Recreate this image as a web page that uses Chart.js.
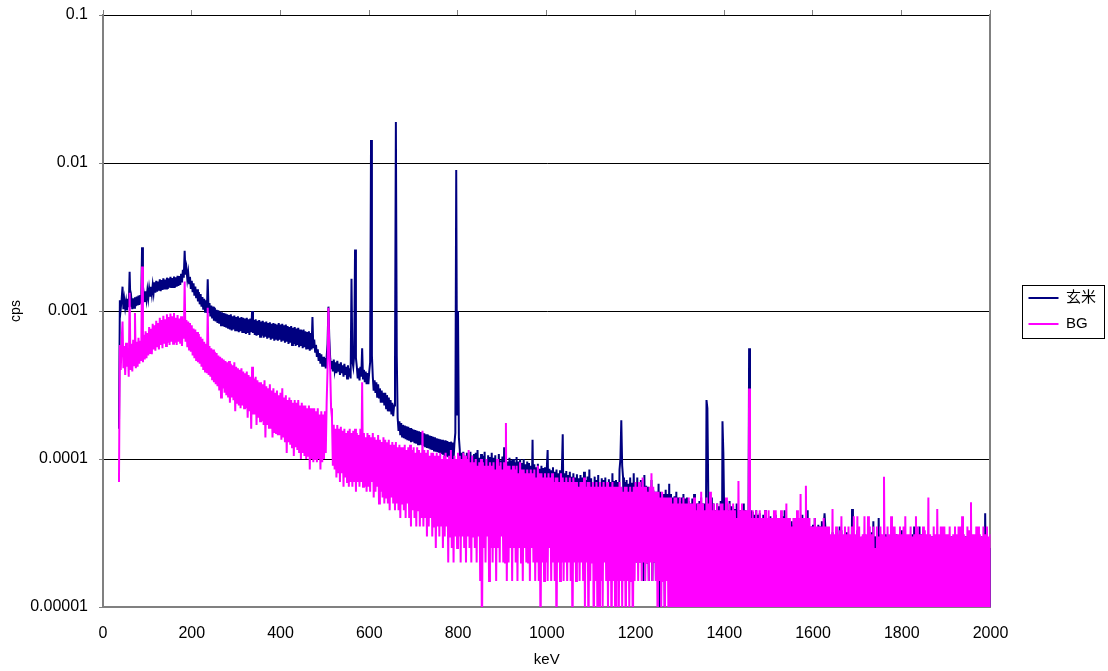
<!DOCTYPE html>
<html>
<head>
<meta charset="utf-8">
<title>玄米 / BG spectrum</title>
<script src="https://cdn.jsdelivr.net/npm/chart.js@4.4.1/dist/chart.umd.min.js"></script>
<style>
  html, body { margin: 0; padding: 0; background: #fff; }
  #spectrum { display: block; }
</style>
</head>
<body>
<canvas id="spectrum" width="1108" height="671"></canvas>
<script>
// channel calibration: first channel energy and channel width (keV)
const E_START_KEV = 36;
const E_STEP_KEV = 2;

// 玄米 (brown rice) sample, cps per channel; one row = 40 keV.
// channels with a single count (5e-6) fall below the axis floor.
const genmaiCps = [
  1.6e-4, 1.18e-3, 1.04e-3, 1.2e-3, 1.46e-3, 1.03e-3, 1.19e-3, 1.05e-3, 1.16e-3, 1.01e-3, 1.21e-3, 1.06e-3, 1.84e-3, 1.07e-3, 1.2e-3, 1.03e-3, 1.22e-3, 1.05e-3, 1.24e-3, 1.08e-3, // 36
  1.25e-3, 1.09e-3, 1.27e-3, 1.1e-3, 1.28e-3, 1.12e-3, 2.7e-3, 1.14e-3, 1.3e-3, 1.15e-3, 1.36e-3, 1.2e-3, 1.38e-3, 1.22e-3, 1.42e-3, 1.27e-3, 1.46e-3, 1.3e-3, 1.5e-3, 1.33e-3, // 76
  1.56e-3, 1.33e-3, 1.6e-3, 1.35e-3, 1.58e-3, 1.37e-3, 1.64e-3, 1.36e-3, 1.62e-3, 1.39e-3, 1.66e-3, 1.4e-3, 1.63e-3, 1.42e-3, 1.68e-3, 1.41e-3, 1.66e-3, 1.44e-3, 1.7e-3, 1.43e-3, // 116
  1.67e-3, 1.45e-3, 1.71e-3, 1.44e-3, 1.69e-3, 1.46e-3, 1.73e-3, 1.48e-3, 1.72e-3, 1.5e-3, 1.78e-3, 1.56e-3, 1.9e-3, 1.68e-3, 2.55e-3, 1.76e-3, 1.94e-3, 1.64e-3, 1.82e-3, 1.54e-3, // 156
  1.7e-3, 1.41e-3, 1.6e-3, 1.34e-3, 1.54e-3, 1.27e-3, 1.46e-3, 1.22e-3, 1.4e-3, 1.16e-3, 1.34e-3, 1.11e-3, 1.3e-3, 1.07e-3, 1.24e-3, 1.02e-3, 1.21e-3, 9.9e-4, 1.18e-3, 9.7e-4, // 196
  1.64e-3, 9.7e-4, 1.13e-3, 9.2e-4, 1.09e-3, 8.9e-4, 1.07e-3, 8.6e-4, 1.05e-3, 8.5e-4, 1.02e-3, 8.3e-4, 1.01e-3, 8.2e-4, 9.9e-4, 8.0e-4, 9.8e-4, 7.9e-4, 9.7e-4, 7.8e-4, // 236
  9.6e-4, 7.7e-4, 9.5e-4, 7.6e-4, 9.4e-4, 7.5e-4, 9.5e-4, 7.4e-4, 9.2e-4, 7.5e-4, 9.3e-4, 7.3e-4, 9.1e-4, 7.4e-4, 9.2e-4, 7.2e-4, 9.0e-4, 7.3e-4, 9.1e-4, 7.1e-4, // 276
  9.0e-4, 7.2e-4, 8.9e-4, 7.0e-4, 9.0e-4, 7.1e-4, 8.8e-4, 6.9e-4, 8.9e-4, 7.2e-4, 1.0e-3, 7.1e-4, 8.7e-4, 6.9e-4, 8.8e-4, 6.8e-4, 8.6e-4, 6.9e-4, 8.7e-4, 6.7e-4, // 316
  8.5e-4, 6.8e-4, 8.6e-4, 6.6e-4, 8.4e-4, 6.7e-4, 8.5e-4, 6.5e-4, 8.3e-4, 6.6e-4, 8.4e-4, 6.4e-4, 8.2e-4, 6.5e-4, 8.3e-4, 6.3e-4, 8.2e-4, 6.5e-4, 8.1e-4, 6.3e-4, // 356
  8.3e-4, 6.4e-4, 8.1e-4, 6.2e-4, 8.2e-4, 6.3e-4, 8.0e-4, 6.1e-4, 8.1e-4, 6.2e-4, 7.9e-4, 6.0e-4, 7.8e-4, 6.1e-4, 7.9e-4, 5.9e-4, 7.7e-4, 6.0e-4, 7.8e-4, 5.8e-4, // 396
  7.6e-4, 5.9e-4, 7.7e-4, 5.7e-4, 7.5e-4, 5.8e-4, 7.4e-4, 5.6e-4, 7.5e-4, 5.7e-4, 7.3e-4, 5.5e-4, 7.2e-4, 5.6e-4, 7.3e-4, 5.4e-4, 7.1e-4, 5.5e-4, 9.1e-4, 5.6e-4, // 436
  6.4e-4, 5.3e-4, 5.9e-4, 4.9e-4, 5.5e-4, 4.6e-4, 5.2e-4, 4.4e-4, 5.1e-4, 4.2e-4, 4.9e-4, 4.2e-4, 4.8e-4, 4.1e-4, 4.9e-4, 6.0e-4, 1.07e-3, 6.5e-4, 4.8e-4, 4.1e-4, // 476
  4.6e-4, 3.9e-4, 4.7e-4, 4.0e-4, 4.5e-4, 3.8e-4, 4.6e-4, 3.9e-4, 4.4e-4, 3.7e-4, 4.5e-4, 3.8e-4, 4.3e-4, 3.6e-4, 4.4e-4, 3.7e-4, 4.2e-4, 3.5e-4, 4.3e-4, 3.6e-4, // 516
  4.1e-4, 3.5e-4, 1.65e-3, 4.6e-4, 4.2e-4, 5.0e-4, 2.6e-3, 4.8e-4, 4.2e-4, 3.5e-4, 4.1e-4, 3.4e-4, 4.2e-4, 3.6e-4, 5.6e-4, 3.5e-4, 4.0e-4, 3.3e-4, 3.9e-4, 3.2e-4, // 556
  3.8e-4, 3.2e-4, 3.9e-4, 4.5e-4, 1.43e-2, 5.0e-4, 3.6e-4, 2.9e-4, 3.4e-4, 2.8e-4, 3.3e-4, 2.6e-4, 3.2e-4, 2.6e-4, 3.0e-4, 2.4e-4, 2.9e-4, 2.4e-4, 2.8e-4, 2.3e-4, // 596
  2.8e-4, 2.2e-4, 2.7e-4, 2.1e-4, 2.6e-4, 2.1e-4, 2.5e-4, 2.0e-4, 2.4e-4, 1.95e-4, 2.3e-4, 4.0e-4, 1.89e-2, 5.0e-4, 1.9e-4, 1.55e-4, 1.8e-4, 1.45e-4, 1.75e-4, 1.42e-4, // 636
  1.7e-4, 1.38e-4, 1.68e-4, 1.36e-4, 1.66e-4, 1.34e-4, 1.65e-4, 1.33e-4, 1.62e-4, 1.3e-4, 1.6e-4, 1.31e-4, 1.58e-4, 1.28e-4, 1.57e-4, 1.27e-4, 1.55e-4, 1.26e-4, 1.54e-4, 1.25e-4, // 676
  1.52e-4, 1.24e-4, 1.5e-4, 1.22e-4, 1.49e-4, 1.2e-4, 1.47e-4, 1.19e-4, 1.46e-4, 1.18e-4, 1.44e-4, 1.16e-4, 1.43e-4, 1.15e-4, 1.41e-4, 1.14e-4, 1.4e-4, 1.12e-4, 1.38e-4, 1.11e-4, // 716
  1.37e-4, 1.1e-4, 1.36e-4, 1.08e-4, 1.35e-4, 1.07e-4, 1.33e-4, 1.05e-4, 1.34e-4, 1.04e-4, 1.32e-4, 1.03e-4, 1.3e-4, 1.02e-4, 1.31e-4, 1.0e-4, 1.29e-4, 1.0e-4, 1.28e-4, 1.5e-4, // 756
  8.97e-3, 2.0e-4, 1.0e-3, 1.4e-4, 1.15e-4, 6.0e-5, 1.1e-4, 5.5e-5, 1.12e-4, 6.5e-5, 1.05e-4, 5.0e-5, 1.1e-4, 6.0e-5, 1.02e-4, 4.5e-5, 1.12e-4, 5.5e-5, 1.05e-4, 5.0e-5, // 796
  1.08e-4, 5.5e-5, 1.1e-4, 4.5e-5, 1.15e-4, 6.0e-5, 1.02e-4, 5.0e-5, 1.08e-4, 4.0e-5, 1.05e-4, 5.5e-5, 1.12e-4, 4.5e-5, 1.0e-4, 5.0e-5, 1.06e-4, 4.0e-5, 1.03e-4, 5.5e-5, // 836
  1.1e-4, 4.5e-5, 1.02e-4, 5.0e-5, 1.06e-4, 4.0e-5, 1.0e-4, 5.5e-5, 1.08e-4, 4.5e-5, 9.8e-5, 5.0e-5, 1.04e-4, 4.0e-5, 1.2e-4, 5.0e-5, 1.0e-4, 4.5e-5, 9.6e-5, 5.0e-5, // 876
  1.02e-4, 4.0e-5, 9.8e-5, 5.0e-5, 1.0e-4, 4.5e-5, 9.5e-5, 3.5e-5, 1.03e-4, 5.0e-5, 9.6e-5, 4.0e-5, 1.0e-4, 4.5e-5, 9.4e-5, 3.5e-5, 1.0e-4, 5.0e-5, 9.2e-5, 4.0e-5, // 916
  9.6e-5, 4.5e-5, 9.4e-5, 3.5e-5, 9.0e-5, 5.0e-5, 1.35e-4, 4.5e-5, 9.2e-5, 3.5e-5, 8.8e-5, 4.5e-5, 9.3e-5, 4.0e-5, 8.6e-5, 3.0e-5, 9.0e-5, 4.5e-5, 8.7e-5, 3.5e-5, // 956
  8.8e-5, 4.0e-5, 8.5e-5, 1.15e-4, 4.5e-5, 8.6e-5, 3.5e-5, 8.4e-5, 4.0e-5, 8.8e-5, 3.0e-5, 8.2e-5, 4.5e-5, 8.5e-5, 3.5e-5, 8.0e-5, 4.0e-5, 8.4e-5, 3.0e-5, 8.2e-5, // 996
  1.47e-4, 4.0e-5, 8.0e-5, 3.5e-5, 8.3e-5, 3.0e-5, 7.8e-5, 4.0e-5, 8.2e-5, 2.5e-5, 7.6e-5, 3.5e-5, 8.0e-5, 3.0e-5, 7.5e-5, 4.0e-5, 7.9e-5, 2.5e-5, 7.4e-5, 3.5e-5, // 1036
  7.8e-5, 3.0e-5, 7.5e-5, 4.0e-5, 8.2e-5, 2.5e-5, 7.2e-5, 3.5e-5, 7.6e-5, 3.0e-5, 8.5e-5, 2.5e-5, 7.4e-5, 3.5e-5, 7.0e-5, 3.0e-5, 7.6e-5, 2.0e-5, 7.2e-5, 3.5e-5, // 1076
  7.8e-5, 2.5e-5, 7.0e-5, 3.5e-5, 7.4e-5, 2.0e-5, 7.2e-5, 3.0e-5, 7.5e-5, 2.5e-5, 6.8e-5, 3.5e-5, 7.3e-5, 2.0e-5, 7.0e-5, 3.0e-5, 8.0e-5, 2.5e-5, 7.1e-5, 3.0e-5, // 1116
  7.2e-5, 2.5e-5, 7.0e-5, 3.0e-5, 8.5e-5, 1.0e-4, 1.83e-4, 9.0e-5, 7.5e-5, 2.5e-5, 7.0e-5, 3.0e-5, 7.2e-5, 2.0e-5, 6.8e-5, 3.0e-5, 7.5e-5, 2.5e-5, 6.9e-5, 2.0e-5, // 1156
  8.0e-5, 2.5e-5, 7.0e-5, 2.0e-5, 7.5e-5, 3.0e-5, 6.8e-5, 2.0e-5, 7.2e-5, 2.5e-5, 6.5e-5, 1.5e-5, 7.8e-5, 2.5e-5, 6.6e-5, 2.0e-5, 6.5e-5, 1.5e-5, 6.2e-5, 2.5e-5, // 1196
  7.2e-5, 1.5e-5, 6.2e-5, 2.0e-5, 6.0e-5, 1.5e-5, 6.0e-5, 2.0e-5, 6.8e-5, 1.0e-5, 6.0e-5, 2.0e-5, 5.8e-5, 1.5e-5, 5.8e-5, 1.0e-5, 6.2e-5, 2.0e-5, 5.8e-5, 1.5e-5, // 1236
  6.8e-5, 1.0e-5, 5.8e-5, 1.5e-5, 5.5e-5, 5e-6, 5.6e-5, 1.5e-5, 6.0e-5, 1.0e-5, 5.5e-5, 1.5e-5, 5.2e-5, 5e-6, 5.5e-5, 1.0e-5, 5.8e-5, 1.5e-5, 5.4e-5, 5e-6, // 1276
  5.5e-5, 1.0e-5, 5.2e-5, 5e-6, 5.0e-5, 1.5e-5, 5.4e-5, 5e-6, 5.8e-5, 1.0e-5, 5.0e-5, 5e-6, 5.0e-5, 1.0e-5, 5.2e-5, 5e-6, 5.5e-5, 1.0e-5, 5.0e-5, 5e-6, // 1316
  5.0e-5, 1.0e-5, 2.5e-4, 2.2e-4, 6.0e-5, 1.0e-5, 5.0e-5, 5e-6, 5.5e-5, 1.0e-5, 5.0e-5, 5e-6, 4.5e-5, 1.0e-5, 5.0e-5, 5e-6, 4.8e-5, 1.0e-5, 5.2e-5, 5e-6, // 1356
  1.8e-4, 1.1e-4, 4.0e-5, 5e-6, 5.0e-5, 1.0e-5, 4.5e-5, 5e-6, 5.2e-5, 1.0e-5, 4.8e-5, 5e-6, 4.8e-5, 1.0e-5, 4.6e-5, 5e-6, 5.0e-5, 1.0e-5, 4.5e-5, 5e-6, // 1396
  4.5e-5, 1.0e-5, 4.6e-5, 5e-6, 5.0e-5, 1.0e-5, 4.5e-5, 5e-6, 4.2e-5, 1.0e-5, 5.6e-4, 1.0e-5, 4.5e-5, 5e-6, 4.4e-5, 1.0e-5, 4.2e-5, 5e-6, 4.5e-5, 1.0e-5, // 1436
  4.2e-5, 5e-6, 4.3e-5, 1.0e-5, 4.0e-5, 5e-6, 4.2e-5, 1.0e-5, 4.5e-5, 5e-6, 3.8e-5, 1.0e-5, 4.0e-5, 5e-6, 4.1e-5, 1.0e-5, 3.9e-5, 5e-6, 4.0e-5, 1.0e-5, // 1476
  4.2e-5, 5e-6, 4.0e-5, 1.0e-5, 3.8e-5, 5e-6, 4.0e-5, 1.0e-5, 4.1e-5, 5e-6, 4.5e-5, 1.0e-5, 3.8e-5, 5e-6, 4.0e-5, 1.0e-5, 3.6e-5, 5e-6, 3.8e-5, 1.0e-5, // 1516
  3.6e-5, 5e-6, 4.0e-5, 1.0e-5, 3.6e-5, 5e-6, 3.8e-5, 1.0e-5, 3.6e-5, 5e-6, 4.2e-5, 1.0e-5, 3.8e-5, 5e-6, 3.5e-5, 1.0e-5, 4.5e-5, 5e-6, 3.4e-5, 1.0e-5, // 1556
  3.5e-5, 5e-6, 3.6e-5, 1.0e-5, 4.0e-5, 5e-6, 3.4e-5, 1.0e-5, 3.6e-5, 5e-6, 3.5e-5, 1.0e-5, 3.8e-5, 5e-6, 3.4e-5, 4.3e-5, 3.4e-5, 5e-6, 3.2e-5, 1.0e-5, // 1596
  3.2e-5, 5e-6, 3.0e-5, 1.0e-5, 3.2e-5, 5e-6, 3.0e-5, 5e-6, 3.2e-5, 1.0e-5, 3.0e-5, 5e-6, 3.5e-5, 1.0e-5, 3.3e-5, 5e-6, 3.0e-5, 1.0e-5, 3.1e-5, 5e-6, // 1636
  3.2e-5, 1.0e-5, 3.0e-5, 5e-6, 2.8e-5, 1.0e-5, 4.6e-5, 5e-6, 3.1e-5, 1.0e-5, 3.0e-5, 5e-6, 3.3e-5, 1.0e-5, 2.6e-5, 5e-6, 2.8e-5, 1.0e-5, 3.0e-5, 5e-6, // 1676
  3.1e-5, 1.0e-5, 3.0e-5, 5e-6, 3.0e-5, 1.0e-5, 2.8e-5, 5e-6, 3.2e-5, 1.0e-5, 3.8e-5, 5e-6, 3.0e-5, 1.0e-5, 2.5e-5, 5e-6, 4.0e-5, 1.0e-5, 3.1e-5, 5e-6, // 1716
  3.0e-5, 1.0e-5, 4.0e-5, 5e-6, 3.1e-5, 1.0e-5, 3.0e-5, 5e-6, 3.0e-5, 1.0e-5, 3.2e-5, 5e-6, 3.0e-5, 1.0e-5, 2.6e-5, 5e-6, 3.1e-5, 1.0e-5, 3.0e-5, 5e-6, // 1756
  3.0e-5, 1.0e-5, 3.3e-5, 5e-6, 2.8e-5, 1.0e-5, 2.8e-5, 5e-6, 3.0e-5, 1.0e-5, 3.0e-5, 5e-6, 2.6e-5, 1.0e-5, 3.1e-5, 5e-6, 3.5e-5, 1.0e-5, 3.0e-5, 5e-6, // 1796
  3.0e-5, 1.0e-5, 3.5e-5, 5e-6, 3.1e-5, 1.0e-5, 2.8e-5, 5e-6, 3.0e-5, 1.0e-5, 3.0e-5, 5e-6, 2.8e-5, 1.0e-5, 2.5e-5, 5e-6, 3.0e-5, 1.0e-5, 2.8e-5, 5e-6, // 1836
  2.5e-5, 1.0e-5, 3.0e-5, 5e-6, 3.0e-5, 1.0e-5, 2.8e-5, 5e-6, 2.5e-5, 1.0e-5, 3.0e-5, 5e-6, 3.0e-5, 1.0e-5, 2.8e-5, 5e-6, 2.6e-5, 1.0e-5, 3.0e-5, 5e-6, // 1876
  3.0e-5, 1.0e-5, 2.8e-5, 5e-6, 2.5e-5, 1.0e-5, 3.0e-5, 5e-6, 3.2e-5, 1.0e-5, 2.8e-5, 5e-6, 2.8e-5, 1.0e-5, 3.0e-5, 5e-6, 3.0e-5, 1.0e-5, 2.6e-5, 5e-6, // 1916
  2.8e-5, 1.0e-5, 3.0e-5, 5e-6, 3.0e-5, 1.0e-5, 2.6e-5, 5e-6, 3.0e-5, 1.0e-5, 2.8e-5, 5e-6, 3.0e-5, 1.0e-5, 2.7e-5, 5e-6, 4.3e-5, 1.0e-5, 2.8e-5, 5e-6, // 1956
  2.8e-5, 5e-6, 2.5e-5 // 1996
];

// background, cps per channel; one row = 40 keV
const bgCps = [
  7.0e-5, 5.9e-4, 4.0e-4, 6.3e-4, 8.5e-4, 4.1e-4, 5.8e-4, 3.7e-4, 6.1e-4, 4.2e-4, 5.6e-4, 3.6e-4, 1.33e-3, 4.0e-4, 6.0e-4, 3.9e-4, 6.4e-4, 4.3e-4, 9.7e-4, 4.1e-4, // 36
  6.2e-4, 4.2e-4, 6.6e-4, 4.4e-4, 6.3e-4, 4.6e-4, 2.0e-3, 4.5e-4, 6.9e-4, 4.7e-4, 7.3e-4, 4.8e-4, 7.1e-4, 5.0e-4, 7.8e-4, 5.2e-4, 7.6e-4, 5.1e-4, 8.2e-4, 5.5e-4, // 76
  8.0e-4, 5.4e-4, 8.6e-4, 5.7e-4, 8.3e-4, 5.5e-4, 9.0e-4, 5.9e-4, 8.7e-4, 5.6e-4, 9.3e-4, 6.0e-4, 8.8e-4, 5.8e-4, 9.5e-4, 6.1e-4, 9.1e-4, 5.9e-4, 9.6e-4, 6.2e-4, // 116
  9.2e-4, 6.0e-4, 9.7e-4, 6.1e-4, 9.0e-4, 5.9e-4, 9.4e-4, 6.2e-4, 8.9e-4, 6.0e-4, 9.2e-4, 5.8e-4, 8.8e-4, 6.5e-4, 1.58e-3, 6.2e-4, 8.7e-4, 5.7e-4, 8.5e-4, 5.5e-4, // 156
  8.3e-4, 5.3e-4, 8.0e-4, 5.0e-4, 7.6e-4, 4.8e-4, 7.5e-4, 4.6e-4, 7.2e-4, 4.5e-4, 7.0e-4, 4.4e-4, 6.7e-4, 4.2e-4, 6.5e-4, 4.0e-4, 6.2e-4, 3.9e-4, 6.0e-4, 3.8e-4, // 196
  1.05e-3, 3.7e-4, 5.8e-4, 3.6e-4, 5.6e-4, 3.4e-4, 5.5e-4, 3.3e-4, 5.3e-4, 3.2e-4, 5.2e-4, 3.1e-4, 5.0e-4, 2.9e-4, 4.9e-4, 2.6e-4, 4.8e-4, 3.0e-4, 4.7e-4, 2.8e-4, // 236
  4.6e-4, 2.7e-4, 4.5e-4, 2.6e-4, 4.6e-4, 2.4e-4, 4.4e-4, 2.6e-4, 4.3e-4, 2.5e-4, 4.5e-4, 2.1e-4, 4.2e-4, 2.4e-4, 4.1e-4, 2.3e-4, 4.0e-4, 2.2e-4, 4.1e-4, 2.3e-4, // 276
  3.9e-4, 2.2e-4, 3.8e-4, 2.2e-4, 3.9e-4, 1.9e-4, 3.7e-4, 2.1e-4, 3.6e-4, 1.6e-4, 4.2e-4, 2.0e-4, 3.5e-4, 2.0e-4, 3.6e-4, 1.7e-4, 3.4e-4, 1.9e-4, 3.3e-4, 1.8e-4, // 316
  3.3e-4, 1.8e-4, 3.2e-4, 1.7e-4, 3.4e-4, 1.4e-4, 3.1e-4, 1.7e-4, 3.0e-4, 1.6e-4, 3.2e-4, 1.6e-4, 2.9e-4, 1.4e-4, 3.0e-4, 1.5e-4, 2.8e-4, 1.5e-4, 2.9e-4, 1.45e-4, // 356
  2.7e-4, 1.45e-4, 2.8e-4, 1.35e-4, 3.0e-4, 1.4e-4, 2.6e-4, 1.3e-4, 2.7e-4, 1.1e-4, 2.5e-4, 1.3e-4, 2.6e-4, 1.25e-4, 2.5e-4, 1.2e-4, 2.4e-4, 1.05e-4, 2.5e-4, 1.2e-4, // 396
  2.4e-4, 1.15e-4, 2.5e-4, 1.1e-4, 2.3e-4, 1.0e-4, 2.4e-4, 1.1e-4, 2.3e-4, 1.05e-4, 2.3e-4, 1.0e-4, 2.2e-4, 1.05e-4, 2.3e-4, 8.5e-5, 2.2e-4, 1.0e-4, 2.2e-4, 9.5e-5, // 436
  2.2e-4, 1.0e-4, 2.1e-4, 9.5e-5, 2.2e-4, 1.0e-4, 2.0e-4, 8.5e-5, 2.1e-4, 9.5e-5, 2.0e-4, 1.0e-4, 2.1e-4, 1.1e-4, 2.4e-4, 4.0e-4, 1.05e-3, 5.5e-4, 4.0e-4, 2.2e-4, // 476
  1.9e-4, 9.0e-5, 1.7e-4, 8.5e-5, 1.6e-4, 7.5e-5, 1.7e-4, 8.0e-5, 1.6e-4, 7.0e-5, 1.65e-4, 8.0e-5, 1.55e-4, 6.5e-5, 1.6e-4, 7.5e-5, 1.5e-4, 7.0e-5, 1.55e-4, 6.5e-5, // 516
  1.6e-4, 7.0e-5, 1.5e-4, 6.5e-5, 1.55e-4, 7.0e-5, 1.6e-4, 6.0e-5, 1.5e-4, 7.0e-5, 1.45e-4, 6.5e-5, 1.6e-4, 7.0e-5, 3.3e-4, 6.5e-5, 1.5e-4, 6.5e-5, 1.4e-4, 6.0e-5, // 556
  1.5e-4, 6.5e-5, 1.45e-4, 6.0e-5, 1.4e-4, 7.0e-5, 1.5e-4, 5.5e-5, 1.4e-4, 6.0e-5, 1.35e-4, 6.5e-5, 1.45e-4, 5.0e-5, 1.35e-4, 6.0e-5, 1.3e-4, 5.5e-5, 1.4e-4, 5.0e-5, // 596
  1.35e-4, 5.5e-5, 1.3e-4, 5.0e-5, 1.35e-4, 4.5e-5, 1.25e-4, 5.5e-5, 1.3e-4, 5.0e-5, 1.25e-4, 4.5e-5, 1.3e-4, 5.0e-5, 1.2e-4, 4.5e-5, 1.25e-4, 4.0e-5, 1.2e-4, 5.0e-5, // 636
  1.2e-4, 4.5e-5, 1.25e-4, 4.0e-5, 1.15e-4, 5.0e-5, 1.2e-4, 4.0e-5, 1.25e-4, 3.5e-5, 1.15e-4, 4.5e-5, 1.2e-4, 4.0e-5, 1.1e-4, 3.5e-5, 1.2e-4, 4.5e-5, 1.15e-4, 3.5e-5, // 676
  1.1e-4, 4.0e-5, 1.55e-4, 3.5e-5, 1.15e-4, 4.0e-5, 1.1e-4, 3.0e-5, 1.15e-4, 3.5e-5, 1.05e-4, 4.0e-5, 1.1e-4, 3.0e-5, 1.1e-4, 3.5e-5, 1.05e-4, 2.5e-5, 1.1e-4, 3.5e-5, // 716
  1.05e-4, 3.0e-5, 1.1e-4, 3.5e-5, 1.0e-4, 2.5e-5, 1.05e-4, 3.0e-5, 1.1e-4, 3.5e-5, 1.0e-4, 2.0e-5, 1.05e-4, 3.0e-5, 1.15e-4, 2.5e-5, 1.0e-4, 2.0e-5, 1.05e-4, 3.0e-5, // 756
  1.0e-4, 2.5e-5, 1.1e-4, 3.0e-5, 1.05e-4, 2.0e-5, 1.0e-4, 3.0e-5, 1.1e-4, 2.5e-5, 1.05e-4, 2.0e-5, 1.0e-4, 3.0e-5, 1.15e-4, 2.5e-5, 9.5e-5, 2.0e-5, 1.05e-4, 3.0e-5, // 796
  9.5e-5, 2.5e-5, 1.0e-4, 2.0e-5, 9.0e-5, 3.0e-5, 9.5e-5, 1.5e-5, 1.0e-4, 5e-6, 9.5e-5, 2.5e-5, 9.0e-5, 2.0e-5, 1.0e-4, 3.0e-5, 9.0e-5, 1.5e-5, 9.5e-5, 2.5e-5, // 836
  9.0e-5, 2.0e-5, 9.5e-5, 2.5e-5, 8.5e-5, 1.5e-5, 1.0e-4, 2.5e-5, 9.0e-5, 2.0e-5, 9.5e-5, 3.0e-5, 8.5e-5, 2.0e-5, 9.5e-5, 2.0e-5, 1.75e-4, 1.5e-5, 9.0e-5, 2.0e-5, // 876
  9.0e-5, 2.5e-5, 8.5e-5, 1.5e-5, 9.0e-5, 2.5e-5, 8.5e-5, 2.0e-5, 9.0e-5, 1.5e-5, 8.0e-5, 2.5e-5, 9.5e-5, 2.0e-5, 8.5e-5, 1.5e-5, 8.5e-5, 2.5e-5, 8.0e-5, 2.0e-5, // 916
  8.5e-5, 2.0e-5, 8.0e-5, 1.5e-5, 8.5e-5, 2.5e-5, 8.0e-5, 2.0e-5, 8.5e-5, 1.5e-5, 7.5e-5, 2.0e-5, 9.0e-5, 1.5e-5, 8.0e-5, 5e-6, 8.0e-5, 2.0e-5, 7.5e-5, 1.5e-5, // 956
  8.0e-5, 2.0e-5, 7.5e-5, 1.5e-5, 8.0e-5, 2.5e-5, 7.5e-5, 1.5e-5, 8.0e-5, 2.0e-5, 7.0e-5, 1.5e-5, 7.5e-5, 5e-6, 7.5e-5, 2.0e-5, 7.0e-5, 1.5e-5, 8.0e-5, 2.0e-5, // 996
  7.5e-5, 1.5e-5, 7.0e-5, 2.0e-5, 7.5e-5, 1.5e-5, 7.0e-5, 2.0e-5, 7.5e-5, 1.5e-5, 7.0e-5, 5e-6, 7.5e-5, 2.0e-5, 7.0e-5, 1.5e-5, 7.0e-5, 2.0e-5, 6.5e-5, 1.5e-5, // 1036
  7.0e-5, 2.0e-5, 7.0e-5, 1.5e-5, 7.5e-5, 1.0e-5, 6.5e-5, 2.0e-5, 7.0e-5, 5e-6, 7.0e-5, 1.5e-5, 6.5e-5, 2.0e-5, 7.0e-5, 5e-6, 6.5e-5, 1.5e-5, 7.0e-5, 1.0e-5, // 1076
  6.5e-5, 5e-6, 7.0e-5, 1.5e-5, 6.5e-5, 1.0e-5, 7.0e-5, 2.0e-5, 6.5e-5, 1.5e-5, 7.0e-5, 1.0e-5, 6.5e-5, 1.5e-5, 6.5e-5, 5e-6, 7.0e-5, 1.5e-5, 6.5e-5, 1.0e-5, // 1116
  6.5e-5, 1.5e-5, 6.5e-5, 5e-6, 7.0e-5, 1.5e-5, 6.5e-5, 1.0e-5, 6.0e-5, 1.5e-5, 6.5e-5, 5e-6, 6.5e-5, 1.5e-5, 6.0e-5, 1.0e-5, 6.5e-5, 1.5e-5, 6.0e-5, 5e-6, // 1156
  6.5e-5, 1.5e-5, 7.0e-5, 2.0e-5, 6.5e-5, 1.5e-5, 7.0e-5, 2.0e-5, 6.5e-5, 1.5e-5, 7.5e-5, 2.0e-5, 6.5e-5, 1.5e-5, 6.5e-5, 2.0e-5, 6.0e-5, 1.5e-5, 6.5e-5, 2.0e-5, // 1196
  8.0e-5, 1.5e-5, 6.5e-5, 2.0e-5, 6.0e-5, 1.5e-5, 6.0e-5, 5e-6, 6.0e-5, 1.5e-5, 5.5e-5, 1.0e-5, 6.0e-5, 1.5e-5, 5.5e-5, 5e-6, 5.5e-5, 1.5e-5, 5.5e-5, 1.0e-5, // 1236
  5.5e-5, 5e-6, 5.5e-5, 1.0e-5, 5.0e-5, 5e-6, 5.5e-5, 1.0e-5, 5.5e-5, 5e-6, 5.0e-5, 1.0e-5, 5.5e-5, 5e-6, 5.0e-5, 1.0e-5, 5.5e-5, 5e-6, 5.0e-5, 1.0e-5, // 1276
  5.0e-5, 5e-6, 5.5e-5, 1.0e-5, 5.0e-5, 5e-6, 5.0e-5, 1.0e-5, 5.5e-5, 5e-6, 4.5e-5, 1.0e-5, 5.0e-5, 5e-6, 5.0e-5, 1.0e-5, 6.0e-5, 5e-6, 5.0e-5, 1.0e-5, // 1316
  4.5e-5, 5e-6, 5.5e-5, 1.0e-5, 5.0e-5, 5e-6, 6.0e-5, 1.0e-5, 4.5e-5, 5e-6, 5.0e-5, 1.0e-5, 4.5e-5, 5e-6, 5.0e-5, 1.0e-5, 4.5e-5, 5e-6, 5.0e-5, 1.0e-5, // 1356
  5.0e-5, 5e-6, 4.5e-5, 1.0e-5, 5.5e-5, 5e-6, 4.5e-5, 1.0e-5, 5.0e-5, 5e-6, 4.5e-5, 1.0e-5, 5.0e-5, 5e-6, 4.5e-5, 1.0e-5, 4.0e-5, 5e-6, 7.1e-5, 1.0e-5, // 1396
  4.5e-5, 5e-6, 5.0e-5, 1.0e-5, 4.5e-5, 5e-6, 4.5e-5, 1.0e-5, 4.5e-5, 5e-6, 3.0e-4, 5e-6, 4.0e-5, 1.0e-5, 4.5e-5, 5e-6, 4.0e-5, 1.0e-5, 4.5e-5, 5e-6, // 1436
  4.0e-5, 5e-6, 4.5e-5, 1.0e-5, 4.0e-5, 5e-6, 4.0e-5, 1.0e-5, 4.5e-5, 5e-6, 4.0e-5, 1.0e-5, 4.5e-5, 5e-6, 4.0e-5, 1.0e-5, 4.0e-5, 5e-6, 4.5e-5, 1.0e-5, // 1476
  4.5e-5, 5e-6, 4.0e-5, 1.0e-5, 4.0e-5, 5e-6, 4.5e-5, 1.0e-5, 4.0e-5, 5e-6, 4.0e-5, 1.0e-5, 5.0e-5, 5e-6, 4.0e-5, 1.0e-5, 4.0e-5, 5e-6, 3.5e-5, 1.0e-5, // 1516
  4.0e-5, 5e-6, 4.0e-5, 1.0e-5, 4.5e-5, 5e-6, 4.0e-5, 1.0e-5, 5.8e-5, 5e-6, 4.0e-5, 1.0e-5, 4.0e-5, 5e-6, 6.6e-5, 1.0e-5, 4.0e-5, 5e-6, 4.0e-5, 1.0e-5, // 1556
  3.5e-5, 5e-6, 3.5e-5, 1.0e-5, 4.0e-5, 5e-6, 3.5e-5, 1.0e-5, 3.5e-5, 5e-6, 3.5e-5, 1.0e-5, 3.5e-5, 5e-6, 4.0e-5, 1.0e-5, 3.5e-5, 5e-6, 3.5e-5, 1.0e-5, // 1596
  3.5e-5, 5e-6, 3.1e-5, 1.0e-5, 4.6e-5, 5e-6, 3.1e-5, 1.0e-5, 3.5e-5, 5e-6, 3.1e-5, 1.0e-5, 3.3e-5, 5e-6, 4.1e-5, 1.0e-5, 3.1e-5, 5e-6, 3.5e-5, 1.0e-5, // 1636
  3.1e-5, 5e-6, 3.5e-5, 1.0e-5, 3.1e-5, 5e-6, 3.5e-5, 1.0e-5, 4.1e-5, 5e-6, 3.1e-5, 1.0e-5, 4.1e-5, 5e-6, 3.5e-5, 1.0e-5, 3.0e-5, 5e-6, 3.1e-5, 1.0e-5, // 1676
  4.1e-5, 5e-6, 3.1e-5, 1.0e-5, 4.1e-5, 5e-6, 3.5e-5, 1.0e-5, 3.1e-5, 5e-6, 3.5e-5, 1.0e-5, 2.5e-5, 5e-6, 3.5e-5, 1.0e-5, 3.0e-5, 5e-6, 3.5e-5, 1.0e-5, // 1716
  3.1e-5, 5e-6, 7.6e-5, 1.0e-5, 3.0e-5, 5e-6, 3.5e-5, 1.0e-5, 3.1e-5, 5e-6, 4.1e-5, 1.0e-5, 3.5e-5, 5e-6, 3.5e-5, 1.0e-5, 3.1e-5, 5e-6, 3.1e-5, 1.0e-5, // 1756
  3.5e-5, 5e-6, 3.1e-5, 1.0e-5, 3.5e-5, 5e-6, 4.1e-5, 1.0e-5, 3.1e-5, 5e-6, 3.1e-5, 1.0e-5, 3.5e-5, 5e-6, 3.0e-5, 1.0e-5, 3.1e-5, 5e-6, 4.1e-5, 1.0e-5, // 1796
  3.5e-5, 5e-6, 3.1e-5, 1.0e-5, 3.1e-5, 5e-6, 3.5e-5, 1.0e-5, 3.3e-5, 5e-6, 3.1e-5, 1.0e-5, 5.5e-5, 5e-6, 3.1e-5, 1.0e-5, 3.0e-5, 5e-6, 3.5e-5, 1.0e-5, // 1836
  3.1e-5, 5e-6, 4.6e-5, 1.0e-5, 3.1e-5, 5e-6, 3.5e-5, 1.0e-5, 3.5e-5, 5e-6, 3.5e-5, 1.0e-5, 3.1e-5, 5e-6, 3.1e-5, 1.0e-5, 3.5e-5, 5e-6, 3.0e-5, 1.0e-5, // 1876
  3.1e-5, 5e-6, 3.5e-5, 1.0e-5, 3.1e-5, 5e-6, 3.5e-5, 1.0e-5, 3.5e-5, 5e-6, 4.1e-5, 1.0e-5, 3.1e-5, 5e-6, 3.0e-5, 1.0e-5, 3.5e-5, 5e-6, 3.3e-5, 1.0e-5, // 1916
  5.1e-5, 5e-6, 3.1e-5, 1.0e-5, 3.1e-5, 5e-6, 3.5e-5, 1.0e-5, 3.5e-5, 5e-6, 3.1e-5, 1.0e-5, 3.0e-5, 5e-6, 3.5e-5, 1.0e-5, 3.1e-5, 5e-6, 3.5e-5, 1.0e-5, // 1956
  3.0e-5, 5e-6, 3.1e-5 // 1996
];

// axis ticks
const keVTicks = [0, 200, 400, 600, 800, 1000, 1200, 1400, 1600, 1800, 2000];
const cpsTicks = [0.00001, 0.0001, 0.001, 0.01, 0.1];
const cpsTickLabels = ['0.00001', '0.0001', '0.001', '0.01', '0.1'];

const toPoints = values => values.map((v, i) => ({ x: E_START_KEV + i * E_STEP_KEV, y: v }));
const decadeTicks = scale => { scale.ticks = cpsTicks.map(v => ({ value: v })); };
const keVTickList = scale => { scale.ticks = keVTicks.map(v => ({ value: v })); };

Chart.defaults.font.family = "'Liberation Sans', 'Noto Sans CJK JP', Arial, sans-serif";
Chart.defaults.color = '#000';

// thin black frame around the legend
const legendFrame = {
    id: 'legendFrame',
    afterDraw(chart) {
        const boxes = chart.legend && chart.legend.legendHitBoxes;
        if (!boxes || !boxes.length) return;
        const left = Math.min(...boxes.map(b => b.left)) - 6;
        const top = Math.min(...boxes.map(b => b.top)) - 6;
        const right = Math.max(...boxes.map(b => b.left + b.width)) + 8;
        const bottom = Math.max(...boxes.map(b => b.top + b.height)) + 6;
        const ctx = chart.ctx;
        ctx.save();
        ctx.strokeStyle = '#000';
        ctx.lineWidth = 1;
        ctx.strokeRect(Math.round(left) + 0.5, Math.round(top) + 0.5,
            Math.round(right - left), Math.round(bottom - top));
        ctx.restore();
    }
};

const ctx = document.getElementById('spectrum').getContext('2d');
new Chart(ctx, {
    type: 'line',
    data: {
        datasets: [
            {
                label: '玄米',
                data: toPoints(genmaiCps),
                borderColor: '#000080',
                backgroundColor: '#000080',
                borderWidth: 2,
                order: 1
            },
            {
                label: 'BG',
                data: toPoints(bgCps),
                borderColor: '#FF00FF',
                backgroundColor: '#FF00FF',
                borderWidth: 2,
                order: 0
            }
        ]
    },
    options: {
        responsive: false,
        animation: false,
        elements: {
            point: { radius: 0 },
            line: { tension: 0 }
        },
        layout: { padding: { top: 15, left: 4, right: 2, bottom: 0 } },
        plugins: {
            legend: {
                position: 'right',
                fullSize: false,
                labels: {
                    usePointStyle: true,
                    pointStyle: 'line',
                    pointStyleWidth: 30,
                    padding: 11,
                    font: { size: 15 },
                    sort: (a, b) => a.datasetIndex - b.datasetIndex
                }
            },
            tooltip: { enabled: false }
        },
        scales: {
            x: {
                type: 'linear',
                min: 0,
                max: 2000,
                afterBuildTicks: keVTickList,
                afterFit: scale => { scale.height = 64; },
                ticks: { font: { size: 16 }, padding: 17, maxRotation: 0, callback: value => String(value) },
                grid: { display: false, drawTicks: false },
                border: { color: '#808080', width: 2 },
                title: { display: true, text: 'keV', font: { size: 15 }, padding: { top: 4, bottom: 2 } }
            },
            xTop: {
                type: 'linear',
                position: 'top',
                min: 0,
                max: 2000,
                afterBuildTicks: keVTickList,
                afterFit: scale => { scale.height = 0; },
                ticks: { display: false },
                grid: { drawOnChartArea: false, drawTicks: true, tickLength: 5, color: '#808080' },
                border: { display: false }
            },
            y: {
                type: 'logarithmic',
                min: 0.00001,
                max: 0.1,
                afterBuildTicks: decadeTicks,
                afterFit: scale => {
                    scale.width = 99;
                    scale.paddingTop = 0;
                    scale.paddingBottom = 0;
                },
                ticks: {
                    font: { size: 16 },
                    padding: 11,
                    callback: value => cpsTickLabels[cpsTicks.indexOf(value)]
                },
                grid: { color: '#000', lineWidth: 1, drawTicks: true, tickLength: 4, tickColor: '#808080' },
                border: { color: '#808080', width: 2 },
                title: { display: true, text: 'cps', font: { size: 14 }, padding: { top: 4, bottom: 0 } }
            },
            yRight: {
                type: 'logarithmic',
                position: 'right',
                min: 0.00001,
                max: 0.1,
                afterBuildTicks: decadeTicks,
                afterFit: scale => {
                    scale.width = 27;
                    scale.paddingTop = 0;
                    scale.paddingBottom = 0;
                },
                ticks: { display: false },
                grid: { drawOnChartArea: false, drawTicks: false },
                border: { color: '#808080', width: 2 }
            }
        }
    },
    plugins: [legendFrame]
});
</script>
</body>
</html>
